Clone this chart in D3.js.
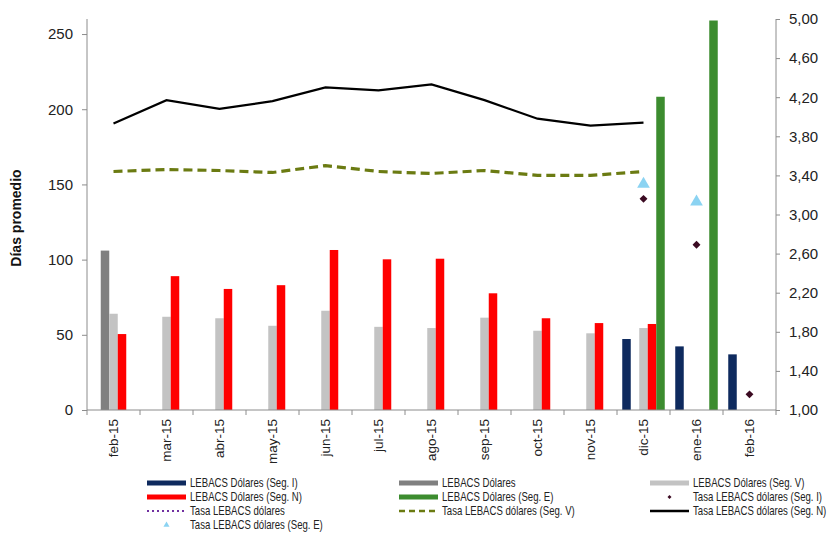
<!DOCTYPE html>
<html><head><meta charset="utf-8">
<script src="https://cdn.jsdelivr.net/npm/d3@7"></script>
<style>
body{margin:0;background:#fff;}
svg{display:block;font-family:"Liberation Sans",Arial,sans-serif;}
</style></head>
<body><svg id="c" width="834" height="533"></svg>
<script>
const categories = ["feb-15","mar-15","abr-15","may-15","jun-15","jul-15","ago-15","sep-15","oct-15","nov-15","dic-15","ene-16","feb-16"];
const leftTicks = [0,50,100,150,200,250];
const rightTicks = [1.0,1.4,1.8,2.2,2.6,3.0,3.4,3.8,4.2,4.6,5.0];

// Bars (left axis, días promedio)
const segI   = [null,null,null,null,null,null,null,null,null,null,47.2,42.3,37];
const lebacs = [106,null,null,null,null,null,null,null,null,null,null,null,null];
const segV   = [64,62,61,56,66,55.3,54.5,61.4,52.7,51,54.5,null,null];
const segN   = [50.5,89,80.5,83,106.4,100.2,100.6,77.6,61,57.8,57.2,null,null];
const segE   = [null,null,null,null,null,null,null,null,null,null,208.3,259,null];

// Rates (right axis)
const tasaSegI = [null,null,null,null,null,null,null,null,null,null,3.16,2.69,1.16];
const tasa     = [null,null,null,null,null,null,null,null,null,null,null,null,null];
const tasaSegV = [3.44,3.46,3.45,3.43,3.50,3.44,3.42,3.45,3.40,3.40,3.44,null,null];
const tasaSegN = [3.93,4.17,4.08,4.16,4.30,4.27,4.33,4.17,3.98,3.91,3.94,null,null];
const tasaSegE = [null,null,null,null,null,null,null,null,null,null,3.31,3.13,null];

const barSeries = [
  {name:"LEBACS Dólares (Seg. I)", values:segI, color:"#0E2A5E"},
  {name:"LEBACS Dólares", values:lebacs, color:"#808080"},
  {name:"LEBACS Dólares (Seg. V)", values:segV, color:"#C3C3C3"},
  {name:"LEBACS Dólares (Seg. N)", values:segN, color:"#FF0000"},
  {name:"LEBACS Dólares (Seg. E)", values:segE, color:"#3C8C2F"}
];

const svg = d3.select("#c");
const L = 87, R = 776, B = 410, T = 19;
const x = d3.scaleBand().domain(categories).range([L,R]).paddingInner(0).paddingOuter(0);
const xi = d3.scaleBand().domain(barSeries.map(s=>s.name)).range([5.25, x.bandwidth()-5.25]);
const yL = d3.scaleLinear().domain([0,260]).range([B,T]);
const yR = d3.scaleLinear().domain([1,5]).range([B,T]);
const axisColor = "#8c8c8c";

// Bars
barSeries.forEach(s=>{
  svg.append("g").selectAll("rect")
    .data(categories.map((c,i)=>({c, v:s.values[i]})).filter(d=>d.v!=null))
    .join("rect")
    .attr("x", d=>x(d.c)+xi(s.name))
    .attr("y", d=>yL(d.v))
    .attr("width", xi.bandwidth())
    .attr("height", d=>B-yL(d.v))
    .attr("fill", s.color);
});

// Lines
const cx = c=>x(c)+x.bandwidth()/2;
const lineGen = d3.line().defined(d=>d.v!=null).x(d=>cx(d.c)).y(d=>yR(d.v));
const mk = arr=>categories.map((c,i)=>({c,v:arr[i]}));
svg.append("path").datum(mk(tasa)).attr("d",lineGen).attr("fill","none")
  .attr("stroke","#7030A0").attr("stroke-width",2.5).attr("stroke-dasharray","2,3");
svg.append("path").datum(mk(tasaSegV)).attr("d",lineGen).attr("fill","none")
  .attr("stroke","#6B7B12").attr("stroke-width",3.2).attr("stroke-dasharray","9,5");
svg.append("path").datum(mk(tasaSegN)).attr("d",lineGen).attr("fill","none")
  .attr("stroke","#000").attr("stroke-width",2.2);

// Markers
svg.append("g").selectAll("path").data(mk(tasaSegE).filter(d=>d.v!=null)).join("path")
  .attr("d", d3.symbol().type(d3.symbolTriangle).size(70))
  .attr("transform", d=>`translate(${cx(d.c)},${yR(d.v)})`)
  .attr("fill","#8BD3F2");
svg.append("g").selectAll("path").data(mk(tasaSegI).filter(d=>d.v!=null)).join("path")
  .attr("d", d3.symbol().type(d3.symbolDiamond2).size(40))
  .attr("transform", d=>`translate(${cx(d.c)},${yR(d.v)})`)
  .attr("fill","#3B0A22");

// Axes
const gx = svg.append("g").attr("transform",`translate(0,${B})`);
gx.append("line").attr("x1",L).attr("x2",R).attr("stroke",axisColor);
gx.selectAll("line.t").data(d3.range(categories.length+1)).join("line").attr("class","t")
  .attr("x1",i=>L+i*x.bandwidth()).attr("x2",i=>L+i*x.bandwidth())
  .attr("y1",0).attr("y2",5).attr("stroke",axisColor);
gx.selectAll("text").data(categories).join("text")
  .attr("transform", d=>`translate(${cx(d)},9) rotate(-90)`)
  .attr("text-anchor","end").attr("dy","0.35em")
  .attr("font-size","13.5px").attr("fill","#222").text(d=>d);

const gl = svg.append("g").attr("transform",`translate(${L},0)`)
  .call(d3.axisLeft(yL).tickValues(leftTicks).tickSize(5).tickPadding(9).tickSizeOuter(0));
gl.select(".domain").attr("stroke",axisColor).attr("d",`M0,${B}V${T}`);
gl.selectAll(".tick line").attr("stroke",axisColor);
gl.selectAll("text").attr("font-size","15px").attr("fill","#222").attr("font-family","Liberation Sans,Arial,sans-serif");

const fmt = v=>d3.format(".2f")(v).replace(".",",");
const gr = svg.append("g").attr("transform",`translate(${R},0)`)
  .call(d3.axisRight(yR).tickValues(rightTicks).tickFormat(fmt).tickSize(4).tickPadding(9).tickSizeOuter(0));
gr.select(".domain").attr("stroke",axisColor).attr("d",`M0,${B}V${T}`);
gr.selectAll(".tick line").attr("stroke",axisColor);
gr.selectAll("text").attr("font-size","15px").attr("fill","#222").attr("font-family","Liberation Sans,Arial,sans-serif");

// Y title
svg.append("text").attr("transform","translate(21,218) rotate(-90)")
  .attr("text-anchor","middle").attr("font-size","14px").attr("font-weight","bold")
  .attr("fill","#111").text("Días promedio");

// Legend
const legend = [
  {name:"LEBACS Dólares (Seg. I)", type:"bar", color:"#0E2A5E", col:0, row:0},
  {name:"LEBACS Dólares", type:"bar", color:"#808080", col:1, row:0},
  {name:"LEBACS Dólares (Seg. V)", type:"bar", color:"#C3C3C3", col:2, row:0},
  {name:"LEBACS Dólares (Seg. N)", type:"bar", color:"#FF0000", col:0, row:1},
  {name:"LEBACS Dólares (Seg. E)", type:"bar", color:"#3C8C2F", col:1, row:1},
  {name:"Tasa LEBACS dólares (Seg. I)", type:"diamond", color:"#3B0A22", col:2, row:1},
  {name:"Tasa LEBACS dólares", type:"dot", color:"#7030A0", col:0, row:2},
  {name:"Tasa LEBACS dólares (Seg. V)", type:"dash", color:"#6B7B12", col:1, row:2},
  {name:"Tasa LEBACS dólares (Seg. N)", type:"line", color:"#000", col:2, row:2},
  {name:"Tasa LEBACS dólares (Seg. E)", type:"tri", color:"#8BD3F2", col:0, row:3}
];
const colX = [147, 399, 650];
const rowY = [483, 497, 511, 525];
const lg = svg.append("g");
legend.forEach(d=>{
  const x0 = colX[d.col], y0 = rowY[d.row];
  const g = lg.append("g");
  if(d.type==="bar") g.append("rect").attr("x",x0).attr("y",y0-2.5).attr("width",39).attr("height",5).attr("fill",d.color);
  if(d.type==="line") g.append("line").attr("x1",x0).attr("x2",x0+39).attr("y1",y0).attr("y2",y0).attr("stroke",d.color).attr("stroke-width",2.5);
  if(d.type==="dash") g.append("line").attr("x1",x0).attr("x2",x0+39).attr("y1",y0).attr("y2",y0).attr("stroke",d.color).attr("stroke-width",2.5).attr("stroke-dasharray","6,4");
  if(d.type==="dot") g.append("line").attr("x1",x0).attr("x2",x0+39).attr("y1",y0).attr("y2",y0).attr("stroke",d.color).attr("stroke-width",2).attr("stroke-dasharray","2,3");
  if(d.type==="diamond") g.append("path").attr("d",d3.symbol().type(d3.symbolDiamond2).size(10)).attr("transform",`translate(${x0+19.5},${y0})`).attr("fill",d.color);
  if(d.type==="tri") g.append("path").attr("d",d3.symbol().type(d3.symbolTriangle).size(16)).attr("transform",`translate(${x0+19.5},${y0})`).attr("fill",d.color);
  g.append("text").attr("transform",`translate(${x0+43},${y0}) scale(0.8,1)`).attr("dy","0.35em")
    .attr("font-size","12px").attr("fill","#222").text(d.name);
});
</script></body></html>
